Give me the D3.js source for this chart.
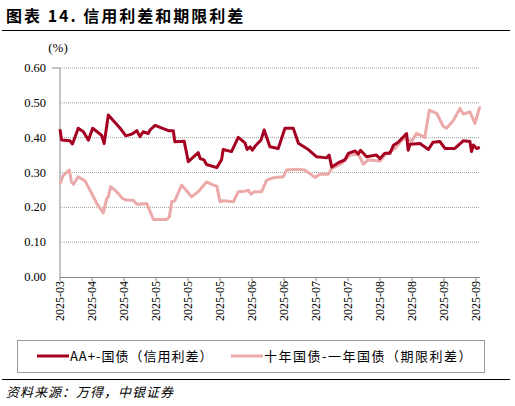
<!DOCTYPE html>
<html><head><meta charset="utf-8">
<script src="https://cdn.jsdelivr.net/npm/d3@7"></script>
<style>body{margin:0;background:#fff}</style>
</head><body><svg id="c" width="515" height="406"></svg>
<script>
// trading-day index (0..131) and spread values in %
var creditT = [0,0.5,3.1,3.9,5.7,7.3,8.9,10.2,13,13.8,15.1,18.8,20.6,22.4,24,25,26,27.6,28.1,29.7,33.9,35.4,35.9,38.8,40.1,43.2,43.8,45,45.8,49,50.5,51,53.6,55.7,57.8,58.5,59.4,60.1,61.3,62.8,63.8,65.6,68.2,70.3,72.9,74.5,77.6,80.2,83.3,84.1,84.9,87,89,90.1,92.2,93.2,93.9,95.8,98.9,100,101.5,103.1,104.2,105.7,108.3,108.8,109.4,112.5,115.1,116.6,118.7,120.3,123.4,126,128.1,128.6,129.2,130.2,131.2];
var creditV = [0.424,0.393,0.391,0.382,0.427,0.417,0.393,0.427,0.407,0.383,0.465,0.427,0.405,0.41,0.42,0.403,0.417,0.412,0.422,0.435,0.42,0.42,0.388,0.39,0.331,0.357,0.34,0.336,0.323,0.314,0.337,0.366,0.36,0.401,0.385,0.366,0.374,0.364,0.379,0.393,0.422,0.374,0.369,0.427,0.427,0.384,0.366,0.345,0.342,0.35,0.316,0.328,0.336,0.355,0.362,0.353,0.364,0.345,0.35,0.34,0.355,0.355,0.378,0.387,0.412,0.364,0.381,0.383,0.366,0.387,0.389,0.369,0.369,0.391,0.389,0.36,0.379,0.369,0.372];
var termT = [0,1,2.9,3.6,4.2,5.7,7.8,9.4,11.5,13.5,14.6,15.1,15.8,17.7,19.6,21,22.9,24,27.1,29.2,33.3,34.2,34.9,35.9,38,39.6,41.1,43.2,45.8,47.9,49,50,51,54.2,55.7,57.8,58.9,59.6,60.9,63,64.6,66.7,69.8,70.8,73.9,76.5,79.7,81.2,83.8,84.9,88,90.6,93.2,94.8,96.3,100,101.5,104.7,107.3,109.9,111.4,114,115.4,117.7,119.8,120.8,122.9,125,126,128.1,129.7,131.2];
var termV = [0.268,0.292,0.307,0.273,0.266,0.288,0.276,0.249,0.211,0.184,0.225,0.23,0.259,0.245,0.225,0.22,0.22,0.209,0.211,0.165,0.165,0.173,0.216,0.219,0.264,0.247,0.23,0.245,0.273,0.264,0.261,0.216,0.219,0.216,0.245,0.246,0.249,0.238,0.245,0.245,0.278,0.285,0.288,0.307,0.309,0.307,0.286,0.295,0.295,0.311,0.326,0.35,0.353,0.324,0.336,0.333,0.35,0.369,0.398,0.39,0.412,0.401,0.479,0.47,0.432,0.427,0.449,0.484,0.468,0.474,0.441,0.489];
var tickLabels = ["2025-03","2025-04","2025-04","2025-05","2025-05","2025-05","2025-06","2025-06","2025-07","2025-07","2025-08","2025-08","2025-09","2025-09"];
var yTicks = [0,0.1,0.2,0.3,0.4,0.5,0.6];
var seriesNames = ["AA+-国债（信用利差）","十年国债-一年国债（期限利差）"];
var colors = ["#A50021","#EBA9A9"];

var svg = d3.select("#c");
var font = "'Liberation Serif','Times New Roman',serif";
var cjk = "'Noto Sans CJK SC',sans-serif";

svg.append("text").attr("x",6).attr("y",22).attr("font-family",cjk).attr("font-weight","bold")
  .attr("font-size",16).attr("letter-spacing",2).attr("fill","#000").text("图表 14. 信用利差和期限利差");
svg.append("line").attr("x1",2).attr("x2",510).attr("y1",30.5).attr("y2",30.5).attr("stroke","#000").attr("stroke-width",1.2);

var x = d3.scaleLinear().domain([0,131.25]).range([60,480]);
var y = d3.scaleLinear().domain([0,0.6]).range([277,68]);

svg.append("text").attr("x",58).attr("y",52).attr("text-anchor","middle").attr("font-family",font).attr("font-size",13).text("(%)");

var g = svg.append("g");
yTicks.forEach(function(t){
  if (t>0) g.append("line").attr("x1",60).attr("x2",480).attr("y1",y(t)).attr("y2",y(t))
    .attr("stroke","#888").attr("stroke-dasharray","1,1").attr("stroke-width",0.8);
  g.append("text").attr("x",46).attr("y",y(t)+4).attr("text-anchor","end").attr("font-family",font)
    .attr("font-size",12.5).text(t.toFixed(2));
});
g.append("line").attr("x1",52).attr("x2",60).attr("y1",y(0.6)).attr("y2",y(0.6)).attr("stroke","#888");
g.append("line").attr("x1",60).attr("x2",60).attr("y1",y(0.6)).attr("y2",y(0)).attr("stroke","#888");
g.append("line").attr("x1",60).attr("x2",480).attr("y1",y(0)+0.5).attr("y2",y(0)+0.5).attr("stroke","#888");

tickLabels.forEach(function(l,i){
  var px = x(i*10);
  g.append("line").attr("x1",px).attr("x2",px).attr("y1",y(0)).attr("y2",y(0)+4).attr("stroke","#888");
  g.append("text").attr("transform","translate("+(px+4)+","+(y(0)+4)+") rotate(-90)")
    .attr("text-anchor","end").attr("font-family",font).attr("font-size",12).text(l);
});

var line = d3.line().x(function(d){return x(d[0]);}).y(function(d){return y(d[1]);});
[[termT,termV,1],[creditT,creditV,0]].forEach(function(s){
  svg.append("path").datum(d3.zip(s[0],s[1])).attr("d",line).attr("fill","none")
    .attr("stroke",colors[s[2]]).attr("stroke-width",3).attr("stroke-linejoin","round");
});

svg.append("rect").attr("x",17.5).attr("y",340.5).attr("width",467).attr("height",32).attr("fill","none").attr("stroke","#999");
[[37,70],[231,264]].forEach(function(p,i){
  svg.append("line").attr("x1",p[0]).attr("x2",p[0]+32).attr("y1",356).attr("y2",356).attr("stroke",colors[i]).attr("stroke-width",3);
  svg.append("text").attr("x",p[1]).attr("y",361).attr("font-family",cjk).attr("font-size",13)
    .attr("letter-spacing",i ? 1.5 : 1).text(seriesNames[i]);
});
svg.append("line").attr("x1",2).attr("x2",510).attr("y1",379.5).attr("y2",379.5).attr("stroke","#000").attr("stroke-width",1.2);
svg.append("text").attr("x",6).attr("y",397).attr("font-family",cjk).attr("font-style","italic").attr("font-size",13)
  .attr("letter-spacing",1).text("资料来源：万得，中银证券");
</script></body></html>
